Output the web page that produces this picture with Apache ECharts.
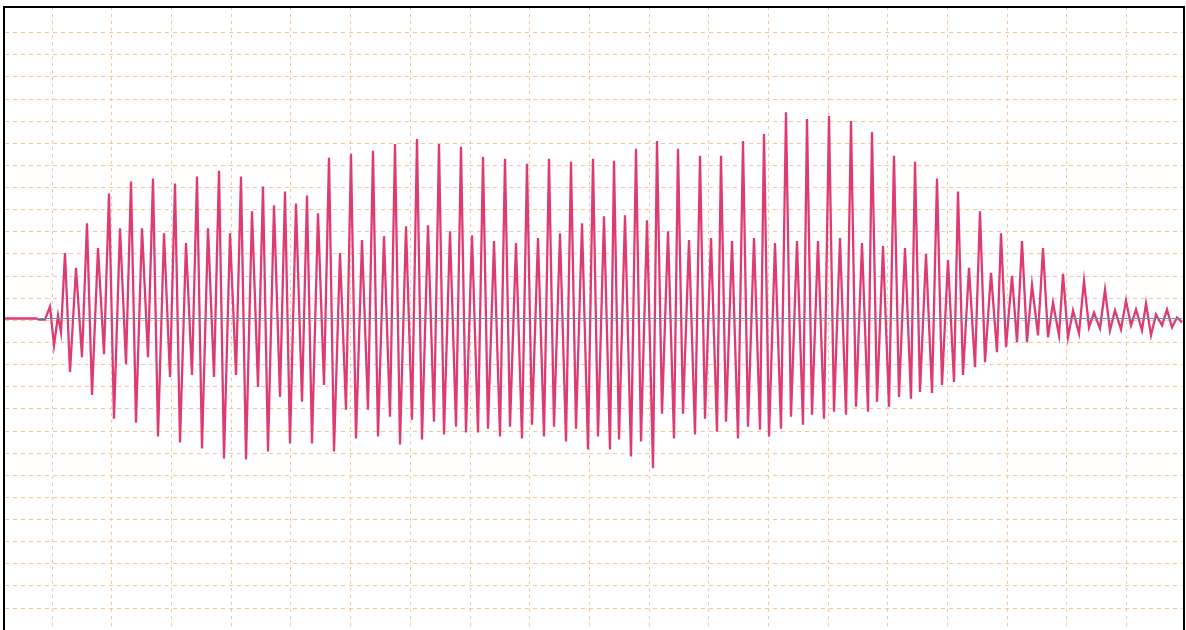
<!DOCTYPE html>
<html><head><meta charset="utf-8">
<script src="https://cdn.jsdelivr.net/npm/echarts/dist/echarts.min.js"></script>
<style>html,body{margin:0;padding:0;background:#fff}#c{width:1186px;height:630px}</style>
</head><body><div id="c"></div>
<script>
// Quiet lead-in before the onset (time, amplitude)
const onsetX = [5, 36, 40, 45, 50, 54, 58, 61];
const onsetV = [0, 0, -1, -1, 12, -27, 3, -14];
// Tall peaks of each cycle
const p1X = [65,87,109,131,153,175,197,219,241,263,285,307,329,351,373,395,417,439,461,483,505,527,549,571,593,614,636,657,678,700,721,743,764,786,807,829,851,872,894,915,937,958,980,1001,1022,1043,1063,1084,1105,1126,1146,1167];
const p1V = [66,96,126,138,141,136,143,149,143,133,128,124,162,166,169,176,181,176,173,163,161,156,161,158,161,159,171,179,171,164,164,179,186,208,201,204,199,188,164,158,141,128,108,86,78,71,45,38,29,18,15,9];
// Troughs following the tall peaks
const t1X = [70,92,114,136,158,180,202,224,246,268,290,312,334,356,378,400,422,444,466,488,510,532,554,576,598,619,641,662,683,705,726,748,769,791,812,834,856,877,899,920,942,963,985,1006,1027,1048,1068,1089,1110,1131,1151,1172];
const t1V = [-54,-77,-101,-105,-119,-125,-131,-141,-142,-134,-126,-126,-134,-121,-119,-127,-122,-117,-115,-111,-109,-107,-109,-111,-119,-122,-124,-96,-96,-101,-104,-109,-119,-99,-97,-94,-89,-84,-79,-74,-67,-57,-44,-29,-24,-19,-19,-9,-12,-7,-17,-9];
// Secondary (shorter) peaks
const p2X = [76,98,120,142,164,186,208,230,252,274,296,318,340,362,384,406,428,450,472,494,516,538,560,582,604,625,647,668,689,711,732,754,775,797,818,840,862,883,905,926,948,969,991,1012,1032,1053,1073,1094,1115,1136,1156,1177];
const p2V = [51,71,91,91,86,76,91,86,108,114,116,106,66,79,83,93,94,88,84,78,76,81,86,96,103,104,99,88,79,81,78,81,76,78,78,81,76,73,71,65,59,51,46,43,34,16,8,6,8,9,4,1];
// Troughs before the next tall peak
const t2X = [82,104,126,148,170,192,214,236,258,280,302,324,346,368,390,412,434,456,478,500,522,544,566,588,610,631,653,674,695,717,738,760,781,803,824,846,868,889,911,932,954,975,997,1017,1038,1059,1079,1100,1121,1142,1162];
const t2V = [-39,-36,-46,-39,-59,-57,-59,-57,-69,-79,-84,-67,-92,-92,-99,-102,-104,-109,-115,-119,-121,-119,-124,-132,-132,-139,-151,-121,-117,-114,-121,-112,-111,-107,-101,-97,-94,-89,-81,-75,-64,-49,-34,-24,-17,-17,-15,-10,-11,-12,-7];
const endX = [1182];
const endV = [-4];

const data = [];
onsetX.forEach((x, i) => data.push([x, onsetV[i]]));
for (let k = 0; k < p1X.length; k++) {
  data.push([p1X[k], p1V[k]]);
  data.push([t1X[k], t1V[k]]);
  data.push([p2X[k], p2V[k]]);
  if (k < t2X.length) data.push([t2X[k], t2V[k]]);
}
endX.forEach((x, i) => data.push([x, endV[i]]));

const gridColor = '#f5c797';
const chart = echarts.init(document.getElementById('c'), null, {renderer: 'canvas'});
chart.setOption({
  animation: false,
  backgroundColor: '#ffffff',
  grid: [
    // data grid: one time unit per pixel across the canvas
    {left: 0, width: 1186, top: 7, height: 628, containLabel: false},
    // horizontal guide lines
    {left: 5, width: 1178, top: 32.4, height: 599.4, containLabel: false},
    // vertical guide lines
    {left: 52, width: 1140, top: 7, height: 640, containLabel: false}
  ],
  xAxis: [
    {type: 'value', gridIndex: 0, min: 0, max: 1186, show: false},
    {type: 'value', gridIndex: 1, min: 0, max: 1, show: false},
    {type: 'value', gridIndex: 2, min: 0, max: 1140, interval: 60,
     axisLine: {show: false}, axisTick: {show: false}, axisLabel: {show: false},
     splitLine: {show: true, lineStyle: {color: gridColor, width: 1, type: [3, 4]}}}
  ],
  yAxis: [
    {type: 'value', gridIndex: 0, min: -314, max: 314, show: false},
    {type: 'value', gridIndex: 1, min: -310.8, max: 288.6, interval: 22.2,
     axisLine: {show: false}, axisTick: {show: false}, axisLabel: {show: false},
     splitLine: {show: true, lineStyle: {color: gridColor, width: 1, type: [4, 4]}}},
    {type: 'value', gridIndex: 2, min: 0, max: 1, show: false}
  ],
  series: [{
    type: 'line', xAxisIndex: 0, yAxisIndex: 0, data: data,
    symbol: 'none', showSymbol: false,
    lineStyle: {color: '#dd3b74', width: 2.3, join: 'miter'},
    markLine: {
      silent: true, symbol: 'none', label: {show: false},
      lineStyle: {color: '#5e9aab', width: 1, type: 'solid'},
      data: [[{coord: [36, 0]}, {coord: [1182, 0]}]]
    }
  }],
  graphic: [{
    type: 'rect', z: 100, silent: true,
    shape: {x: 4, y: 7, width: 1180, height: 700},
    style: {fill: null, stroke: '#000000', lineWidth: 2}
  }]
});
</script>
</body></html>
